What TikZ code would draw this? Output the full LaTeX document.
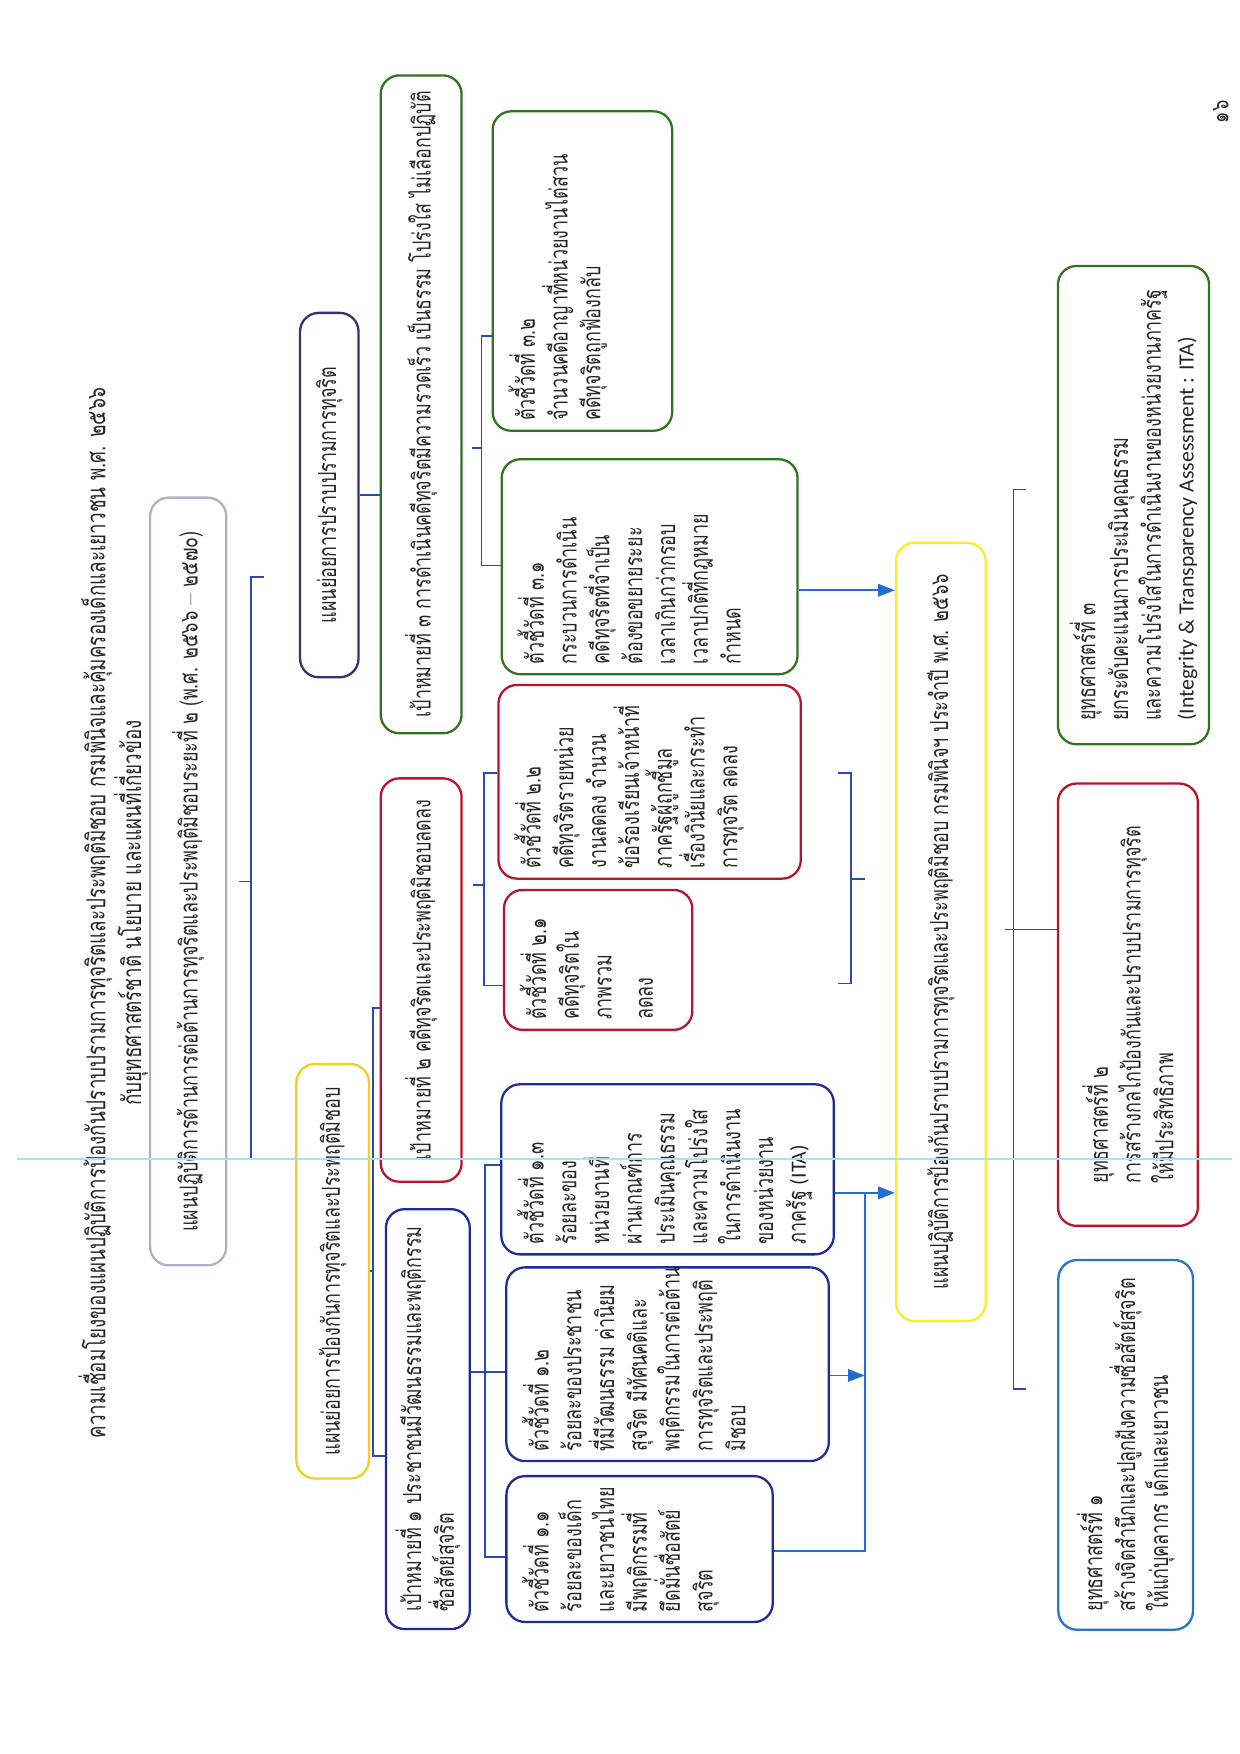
\documentclass[tikz,border=0pt]{standalone}
\usepackage{fontspec}
\newfontfamily\thaifont[Script=Thai,FakeStretch=0.72]{Loma}
\newfontfamily\latinfont{Carlito}
\usetikzlibrary{arrows.meta}

\definecolor{cgreen}{RGB}{50,115,35}
\definecolor{cred}{RGB}{185,20,45}
\definecolor{cblue}{RGB}{30,45,150}
\definecolor{clblue}{RGB}{40,115,200}
\definecolor{cyellow}{RGB}{255,235,40}
\definecolor{corange}{RGB}{245,205,30}
\definecolor{cnavy}{RGB}{55,50,110}
\definecolor{cgray}{RGB}{175,175,200}
\definecolor{clink}{RGB}{45,75,175}
\definecolor{carrow}{RGB}{35,110,205}
\definecolor{ccyan}{RGB}{165,228,238}

\newcommand{\bodyfont}{\thaifont\fontsize{12pt}{15.8pt}\selectfont}
\newcommand{\titlefont}{\thaifont\fontsize{12.6pt}{16.2pt}\selectfont}
\newcommand{\lat}[1]{{\latinfont\fontsize{10.5pt}{15.8pt}\selectfont #1}}

\begin{document}
\begin{tikzpicture}[x=0.01897cm,y=-0.01897cm,
    box/.style={draw, rounded corners=9pt, line width=1.1pt, rotate=90, inner sep=0pt, font=\bodyfont, text=black!85, align=left},
    txt/.style={rotate=90, align=left, inner xsep=0.18cm, inner ysep=0.28cm, font=\bodyfont, text=black!85, anchor=north west},
    link/.style={clink, line width=0.8pt},
    arr/.style={carrow, line width=0.8pt, -{Triangle[length=8pt,width=6pt]}}]

    \useasboundingbox (0,0) rectangle (1107,1566);

    %title
    \node[rotate=90, align=center, font=\titlefont, text=black!85] (title) at (101,815) {ความเชื่อมโยงของแผนปฏิบัติการป้องกันปราบปรามการทุจริตและประพฤติมิชอบ กรมพินิจและคุ้มครองเด็กและเยาวชน พ.ศ. ๒๕๖๖\\กับยุทธศาสตร์ชาติ นโยบาย และแผนที่เกี่ยวข้อง};

    %plans
    \node[box, draw=cgray, align=center, minimum width=13cm, minimum height=1.29cm] (plan2) at (168,787) {แผนปฏิบัติการด้านการต่อต้านการทุจริตและประพฤติมิชอบระยะที่ ๒ (พ.ศ. ๒๕๖๖ {\normalfont –} ๒๕๗๐)};
    \node[box, draw=cnavy, minimum width=6.17cm, minimum height=0.99cm] (sub3) at (294,442) {แผนย่อยการปราบปรามการทุจริต};
    \node[box, draw=corange, minimum width=7.02cm, minimum height=1.23cm] (sub1) at (297,1135) {แผนย่อยการป้องกันการทุจริตและประพฤติมิชอบ};

    %goals
    \node[box, draw=cgreen, minimum width=11.14cm, minimum height=1.37cm] (goal3) at (376,361) {เป้าหมายที่ ๓ การดำเนินคดีทุจริตมีความรวดเร็ว เป็นธรรม โปร่งใส ไม่เลือกปฏิบัติ};
    \node[box, draw=cred, minimum width=6.83cm, minimum height=1.37cm] (goal2) at (376,875) {เป้าหมายที่ ๒ คดีทุจริตและประพฤติมิชอบลดลง};
    \node[box, draw=cblue, minimum width=7.11cm, minimum height=1.42cm] (goal1) at (382,1267) {เป้าหมายที่ ๑ ประชาชนมีวัฒนธรรมและพฤติกรรม\\ซื่อสัตย์สุจริต};

    %indicators
    \node[box, draw=cgreen, minimum width=5.41cm, minimum height=3.04cm] (ind32) at (520,242) {};
    \node[txt] (ind32t) at (ind32.north west) {ตัวชี้วัดที่ ๓.๒\\จำนวนคดีอาญาที่หน่วยงานไต่สวน\\คดีทุจริตถูกฟ้องกลับ};
    \node[box, draw=cgreen, minimum width=3.64cm, minimum height=5.01cm] (ind31) at (580,506) {};
    \node[txt] (ind31t) at (ind31.north west) {ตัวชี้วัดที่ ๓.๑\\กระบวนการดำเนิน\\คดีทุจริตที่จำเป็น\\ต้องขอขยายระยะ\\เวลาเกินกว่ากรอบ\\เวลาปกติที่กฎหมาย\\กำหนด};
    \node[box, draw=cred, minimum width=3.28cm, minimum height=5.12cm] (ind22) at (580,698) {};
    \node[txt] (ind22t) at (ind22.north west) {ตัวชี้วัดที่ ๒.๒\\คดีทุจริตรายหน่วย\\งานลดลง จำนวน\\ข้อร้องเรียนเจ้าหน้าที่\\ภาครัฐผู้ถูกชี้มูล\\เรื่องวินัยและกระทำ\\การทุจริต ลดลง};
    \node[box, draw=cred, minimum width=2.37cm, minimum height=3.19cm] (ind21) at (534,857) {};
    \node[txt] (ind21t) at (ind21.north west) {ตัวชี้วัดที่ ๒.๑\\คดีทุจริตใน\\ภาพรวม\\[4pt]ลดลง};
    \node[box, draw=cblue, minimum width=2.88cm, minimum height=5.63cm] (ind13) at (596,1044) {};
    \node[txt] (ind13t) at (ind13.north west) {ตัวชี้วัดที่ ๑.๓\\ร้อยละของ\\หน่วยงานที่\\ผ่านเกณฑ์การ\\ประเมินคุณธรรม\\และความโปร่งใส\\ในการดำเนินงาน\\ของหน่วยงาน\\ภาครัฐ \lat{(ITA)}};
    \node[box, draw=cblue, minimum width=3.28cm, minimum height=5.46cm] (ind12) at (596,1218) {};
    \node[txt] (ind12t) at (ind12.north west) {ตัวชี้วัดที่ ๑.๒\\ร้อยละของประชาชน\\ที่มีวัฒนธรรม ค่านิยม\\สุจริต มีทัศนคติและ\\พฤติกรรมในการต่อต้าน\\การทุจริตและประพฤติ\\มิชอบ};
    \node[box, draw=cblue, minimum width=2.47cm, minimum height=4.51cm] (ind11) at (571,1383) {};
    \node[txt] (ind11t) at (ind11.north west) {ตัวชี้วัดที่ ๑.๑\\ร้อยละของเด็ก\\และเยาวชนไทย\\มีพฤติกรรมที่\\ยึดมั่นซื่อสัตย์\\สุจริต};

    %main plan
    \node[box, draw=cyellow, align=center, minimum width=13.18cm, minimum height=1.52cm] (main) at (840,832) {แผนปฏิบัติการป้องกันปราบปรามการทุจริตและประพฤติมิชอบ กรมพินิจฯ ประจำปี พ.ศ. ๒๕๖๖};

    %strategies
    \node[box, draw=cgreen, minimum width=8.1cm, minimum height=2.56cm] (str3) at (1012,451) {ยุทธศาสตร์ที่ ๓\\ยกระดับคะแนนการประเมินคุณธรรม\\และความโปร่งใสในการดำเนินงานของหน่วยงานภาครัฐ\\\lat{(Integrity \& Transparency Assessment : ITA)}};
    \node[box, draw=cred, minimum width=7.49cm, minimum height=2.37cm] (str2) at (1007,897) {ยุทธศาสตร์ที่ ๒\\การสร้างกลไกป้องกันและปราบปรามการทุจริต\\ให้มีประสิทธิภาพ};
    \node[box, draw=clblue, minimum width=6.26cm, minimum height=2.28cm] (str1) at (1005,1290) {ยุทธศาสตร์ที่ ๑\\สร้างจิตสำนึกและปลูกฝังความซื่อสัตย์สุจริต\\ให้แก่บุคลากร เด็กและเยาวชน};

    %page number
    \node[rotate=90, font=\bodyfont, text=black!85] (page) at (1090,100) {๑๖};

    %brackets
    \draw[link] (236,515) -- (224,515) -- (224,1035) -- (236,1035);
    \draw[link] (224,787) -- ([xshift=0.2cm]plan2.south);
    \draw[link] (sub3.south) -- (goal3.north |- sub3.south);
    \draw[link] (goal2.north |- 0,900) -- (333,900) -- (333,1300) -- (goal1.north |- 0,1300);
    \draw[link] (sub1.south) -- (333,1135);
    \draw[link] (ind32.north |- 0,300) -- (430,300) -- (430,505) -- (ind31.north |- 0,505);
    \draw[link] (430,400) -- (421,400);
    \draw[link] (ind22.north |- 0,690) -- (432,690) -- (432,880) -- (ind21.north |- 0,880);
    \draw[link] (432,790) -- (422,790);
    \draw[link] (ind13.north |- 0,1040) -- (433,1040) -- (433,1390) -- (ind11.north |- 0,1390);
    \draw[link] (goal1.south |- 0,1225) -- (ind12.north |- 0,1225);
    \draw[link] (748,690) -- (760,690) -- (760,878) -- (748,878);
    \draw[link] (760,785) -- (772,785);
    \draw[link] (916,437) -- (905,437) -- (905,1240) -- (916,1240);
    \draw[link] (897,830) -- (str2.north |- 0,830);

    %arrows
    \coordinate (col) at (772,1228);
    \draw[arr] (ind31.south |- 0,527) -- (main.north |- 0,527);
    \draw[arr] (ind13.south |- 0,1065) -- (main.north |- 0,1065);
    \draw[arr] (ind12.south |- col) -- (col);
    \draw[carrow, line width=0.8pt] (ind11.south |- 0,1385) -- (772,1385) -- (772,1065);

    %scan line
    \draw[ccyan, line width=0.8pt] (15,1035) -- (1100,1035);
\end{tikzpicture}
\end{document}
